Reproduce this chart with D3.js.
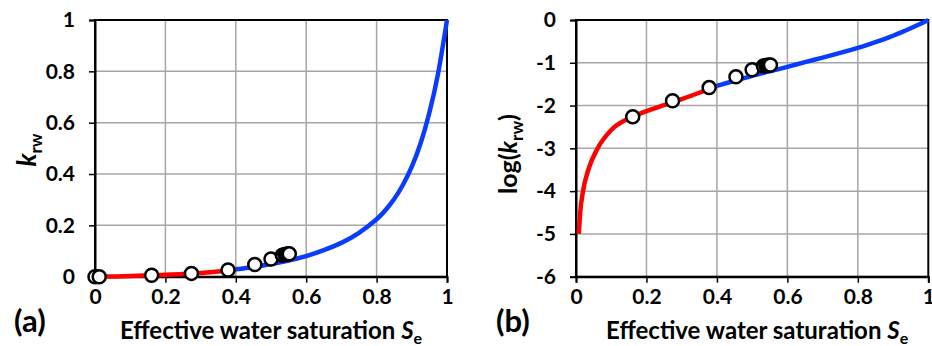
<!DOCTYPE html>
<html>
<head>
<meta charset="utf-8">
<script src="https://cdn.jsdelivr.net/npm/d3@7"></script>
<style>
  html, body { margin: 0; padding: 0; background: #fff; }
  svg { display: block; font-family: Lato, "Open Sans", sans-serif; font-weight: bold; }
</style>
</head>
<body>
<script>
// Relative permeability curve krw(Se), read as log10(krw)
const curveSe = [0.008, 0.012, 0.02, 0.035, 0.06, 0.1, 0.15, 0.2, 0.25, 0.3, 0.35, 0.4,
                 0.45, 0.5, 0.55, 0.6, 0.65, 0.7, 0.75, 0.8, 0.825, 0.85, 0.875, 0.9, 0.925, 0.95, 0.975, 1.0];
const curveLogKrw = [-5.0, -4.5, -4.0, -3.5, -3.02, -2.57, -2.3, -2.13, -1.99, -1.85, -1.7, -1.54,
                     -1.42, -1.305, -1.2, -1.095, -0.985, -0.88, -0.768, -0.65, -0.587, -0.519, -0.446,
                     -0.368, -0.284, -0.194, -0.1, 0];
// Split point between the red (low) and blue (high) parts of the curve
const splitSe = 0.4;

// Measured points
const pointSe  = [0, 0.012, 0.161, 0.274, 0.378, 0.454, 0.500, 0.532, 0.539, 0.544, 0.548, 0.552];
const pointKrw = [0, 0, 0.0055, 0.0129, 0.0263, 0.0473, 0.069, 0.084, 0.086, 0.087, 0.088, 0.089];

// Tick labels
const xTicks = [0, 0.2, 0.4, 0.6, 0.8, 1];
const xTickLabels = ["0", "0.2", "0.4", "0.6", "0.8", "1"];
const yTicksA = [0, 0.2, 0.4, 0.6, 0.8, 1];
const yTickLabelsA = ["0", "0.2", "0.4", "0.6", "0.8", "1"];
const yTicksB = [0, -1, -2, -3, -4, -5, -6];
const yTickLabelsB = ["0", "-1", "-2", "-3", "-4", "-5", "-6"];

const W = 932, H = 346;
const svg = d3.select("body").append("svg").attr("width", W).attr("height", H);

const curve = curveSe.map((s, i) => ({ se: s, lk: curveLogKrw[i], k: Math.pow(10, curveLogKrw[i]) }));
const points = pointSe.map((s, i) => ({ se: s, k: pointKrw[i] }));

function panel(opt) {
  const g = svg.append("g");
  const x = d3.scaleLinear().domain([0, 1]).range([opt.x0, opt.x1]);
  const y = d3.scaleLinear().domain(opt.yDomain).range([opt.y1, opt.y0]);

  // grid
  g.append("g").selectAll("line").data(xTicks.slice(1, -1)).join("line")
    .attr("x1", d => x(d)).attr("x2", d => x(d)).attr("y1", opt.y0).attr("y2", opt.y1)
    .attr("stroke", "#a6a6a6").attr("stroke-width", 1.5);
  g.append("g").selectAll("line").data(opt.yTicks.filter(d => d !== opt.yDomain[0] && d !== opt.yDomain[1])).join("line")
    .attr("x1", opt.x0).attr("x2", opt.x1).attr("y1", d => y(d)).attr("y2", d => y(d))
    .attr("stroke", "#a6a6a6").attr("stroke-width", 1.5);

  // frame
  g.append("rect").attr("x", opt.x0).attr("y", opt.y0)
    .attr("width", opt.x1 - opt.x0).attr("height", opt.y1 - opt.y0)
    .attr("fill", "none").attr("stroke", "#000").attr("stroke-width", 2);

  // axes
  const xAxis = d3.axisBottom(x).tickValues(xTicks).tickSize(6).tickPadding(6)
    .tickFormat((d, i) => xTickLabels[i]);
  const ga = g.append("g").attr("transform", `translate(0,${opt.y1})`).call(xAxis);
  const yAxis = d3.axisLeft(y).tickValues(opt.yTicks).tickSize(6).tickPadding(14)
    .tickFormat((d, i) => opt.yLabels[i]);
  const gb = g.append("g").attr("transform", `translate(${opt.x0},0)`).call(yAxis);
  [ga, gb].forEach(a => {
    a.select(".domain").attr("stroke", "#000").attr("stroke-width", 2);
    a.selectAll(".tick line").attr("stroke", "#000").attr("stroke-width", 1.5);
    a.selectAll(".tick text").attr("fill", "#000").style("font-size", "21px").style("font-weight", "bold")
      .style("font-family", "Lato, sans-serif");
  });

  // curve
  const line = d3.line().x(d => x(d.se)).y(d => y(opt.val(d))).curve(opt.curveType);
  g.append("path").datum(curve.filter(d => d.se <= splitSe)).attr("d", line)
    .attr("fill", "none").attr("stroke", "#ff0000").attr("stroke-width", 4.5);
  g.append("path").datum(curve.filter(d => d.se >= splitSe)).attr("d", line)
    .attr("fill", "none").attr("stroke", "#0a3cff").attr("stroke-width", 4.5);

  // points
  g.append("g").selectAll("circle").data(points.filter(opt.pointFilter)).join("circle")
    .attr("cx", d => x(d.se)).attr("cy", d => y(opt.pval(d))).attr("r", 6.5)
    .attr("fill", "#fff").attr("stroke", "#000").attr("stroke-width", 2.5);

  // x title
  const xt = g.append("text").attr("x", (opt.x0 + opt.x1) / 2 + opt.xtShift).attr("y", 339)
    .attr("text-anchor", "middle").style("font-size", "24px");
  xt.append("tspan").text("Effective water saturation ");
  xt.append("tspan").attr("font-style", "italic").text("S");
  xt.append("tspan").attr("dy", 5).style("font-size", "16px").text("e");

  // panel letter
  g.append("text").attr("x", opt.letterX).attr("y", 332).style("font-size", "31px").text(opt.letter);

  return g;
}

panel({
  x0: 95, x1: 447, y0: 20, y1: 276.7, yDomain: [0, 1], yTicks: yTicksA, yLabels: yTickLabelsA,
  val: d => d.k, pval: d => d.k, pointFilter: () => true, letter: "(a)", letterX: 14, xtShift: 0,
  curveType: d3.curveNatural
});
const yla = svg.append("text").attr("transform", "translate(36,150) rotate(-90)")
  .attr("text-anchor", "middle").style("font-size", "26px");
yla.append("tspan").attr("font-style", "italic").text("k");
yla.append("tspan").attr("dy", 6).style("font-size", "17px").text("rw");

panel({
  x0: 576, x1: 928.3, y0: 20, y1: 276.7, yDomain: [-6, 0], yTicks: yTicksB, yLabels: yTickLabelsB,
  val: d => d.lk, pval: d => Math.log10(d.k), pointFilter: d => d.k > 0, letter: "(b)", letterX: 496, xtShift: 5,
  curveType: d3.curveMonotoneX
});
const ylb = svg.append("text").attr("transform", "translate(517,154) rotate(-90)")
  .attr("text-anchor", "middle").style("font-size", "25px");
ylb.append("tspan").text("log(");
ylb.append("tspan").attr("font-style", "italic").text("k");
ylb.append("tspan").attr("dy", 6).style("font-size", "17px").text("rw");
ylb.append("tspan").attr("dy", -6).text(")");
</script>
</body>
</html>
